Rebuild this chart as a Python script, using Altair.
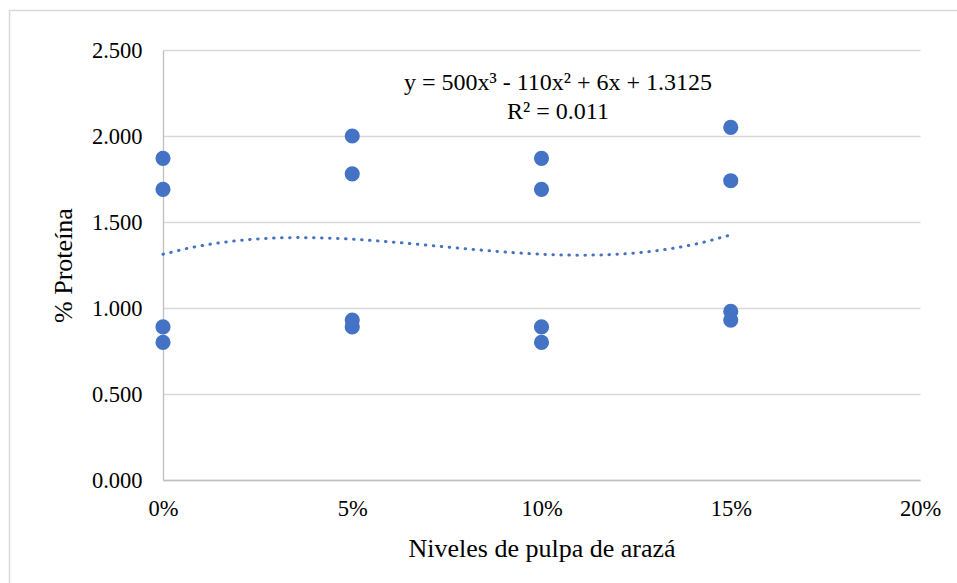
import altair as alt
import pandas as pd

# Data
niveles = [0.00, 0.05, 0.10, 0.15]
proteina_0 = [1.87, 1.69, 0.89, 0.80]
proteina_5 = [2.00, 1.78, 0.93, 0.89]
proteina_10 = [1.87, 1.69, 0.89, 0.80]
proteina_15 = [2.05, 1.74, 0.98, 0.93]
y_ticks = [0.0, 0.5, 1.0, 1.5, 2.0, 2.5]
x_ticks = [0.0, 0.05, 0.10, 0.15, 0.20]
equation = "y = 500x³ - 110x² + 6x + 1.3125"
r2 = "R² = 0.011"

rows = []
for lvl, vals in zip(niveles, [proteina_0, proteina_5, proteina_10, proteina_15]):
    for v in vals:
        rows.append({"nivel": lvl, "proteina": v})
df = pd.DataFrame(rows)

FONT = "Liberation Serif"
BLUE = "#4472C4"
W, H = 757, 430

x_enc = alt.X(
    "nivel:Q",
    scale=alt.Scale(domain=[0, 0.2], nice=False, zero=False),
    axis=alt.Axis(
        values=x_ticks, format=".0%", title="Niveles de pulpa de arazá",
        grid=False, ticks=False, domainColor="#bfbfbf", domainWidth=1.3,
        labelFont=FONT, labelFontSize=22.5, labelColor="black", labelPadding=17,
        labelFlush=False, labelOverlap=False,
        titleFont=FONT, titleFontSize=26, titleFontWeight="normal",
        titleColor="black", titlePadding=16,
    ),
)
y_enc = alt.Y(
    "proteina:Q",
    scale=alt.Scale(domain=[0, 2.5], nice=False),
    axis=alt.Axis(
        values=y_ticks, format=".3f", title="% Proteína",
        grid=True, gridColor="#d9d9d9", gridWidth=1.3,
        ticks=False, domainColor="#bfbfbf", domainWidth=1.3,
        labelFont=FONT, labelFontSize=22.5, labelColor="black", labelPadding=21,
        labelFlush=False, labelOverlap=False,
        titleFont=FONT, titleFontSize=26, titleFontWeight="normal",
        titleColor="black", titlePadding=15,
    ),
)

base = alt.Chart(df)

points = base.mark_circle(size=230, color=BLUE, opacity=1).encode(x=x_enc, y=y_enc)

trend = base.transform_regression(
    "nivel", "proteina", method="poly", order=3, extent=[0, 0.15]
).mark_line(
    color=BLUE, strokeWidth=3, strokeDash=[0.5, 7.5], strokeCap="round"
).encode(x="nivel:Q", y="proteina:Q")

one = alt.Data(values=[{}])

eq_text = alt.Chart(one).mark_text(
    font=FONT, fontSize=24, color="black", align="center", baseline="middle"
).encode(x=alt.value(395), y=alt.value(33), text=alt.value(equation))

r2_text = alt.Chart(one).mark_text(
    font=FONT, fontSize=24, color="black", align="center", baseline="middle"
).encode(x=alt.value(395), y=alt.value(62), text=alt.value(r2))

border = alt.Chart(one).mark_rect(
    fill=None, stroke="#d9d9d9", strokeWidth=1.5
).encode(
    x=alt.value(-153.5), x2=alt.value(820), y=alt.value(-39.5), y2=alt.value(620)
)

chart = alt.layer(border, points, trend, eq_text, r2_text).properties(
    width=W, height=H,
    autosize=alt.AutoSizeParams(type="none"),
    padding={"left": 163, "top": 50, "right": 37, "bottom": 103},
    background="white",
).configure_view(stroke=None)

chart.save("out.html", embed_options={"renderer": "svg", "actions": False})
